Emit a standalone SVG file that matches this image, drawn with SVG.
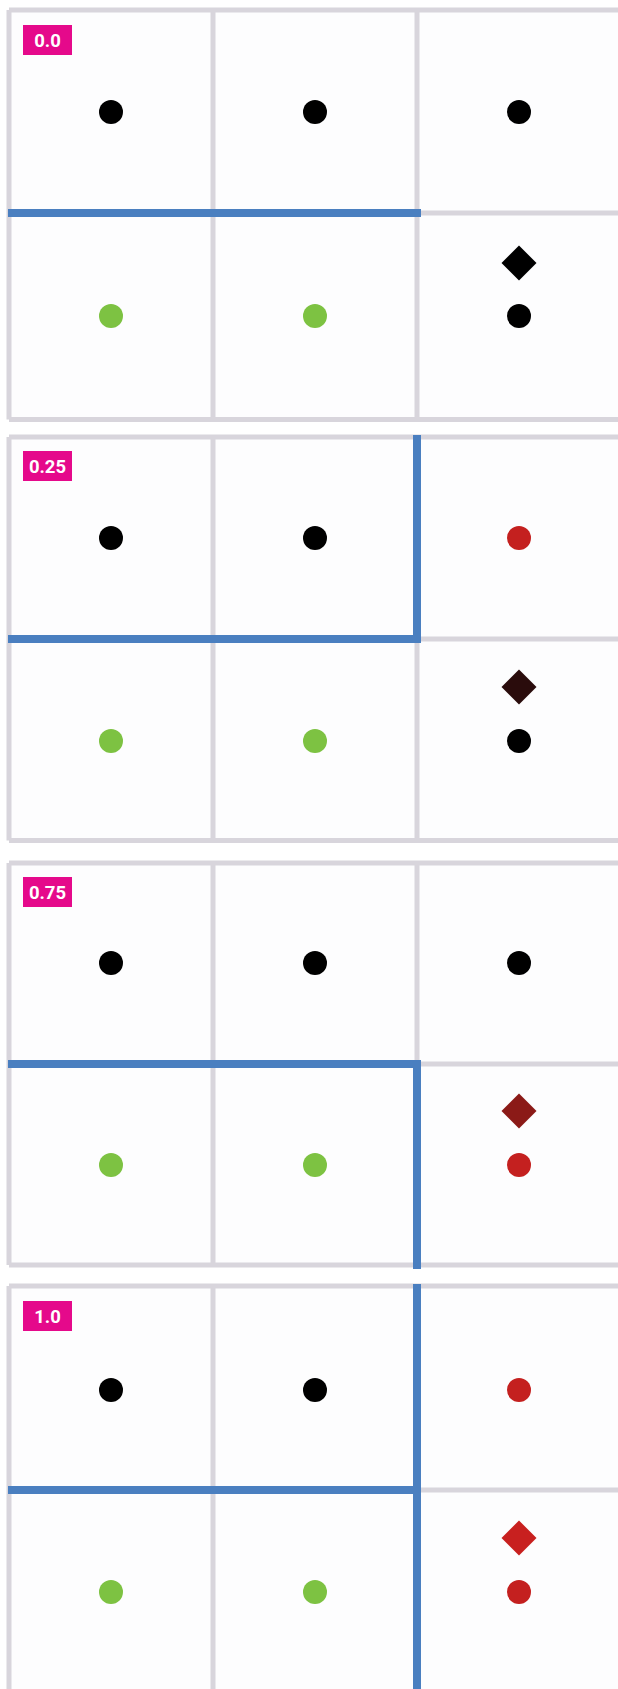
<svg xmlns="http://www.w3.org/2000/svg" width="618" height="1689" viewBox="0 0 618 1689">
<style>
.grid{stroke:#d8d5dc;stroke-width:5;fill:none}
.cell{fill:#fdfdfe}
.blue{stroke:#4a7fc0;stroke-width:8;fill:none;stroke-linecap:butt}
.tag{fill:#e5098b}
.tagt{fill:#fff;font-family:Roboto,"Liberation Sans",sans-serif;font-weight:bold;font-size:18.5px;text-anchor:middle}
.k{fill:#000}
.g{fill:#7dc242}
.r{fill:#c4201f}
</style>
<defs>
<path id="dia" d="M0 -17.5L17.5 0L0 17.5L-17.5 0Z"/>
</defs>
<rect width="618" height="1689" fill="#ffffff"/>

<g id="panel1">
<rect class="cell" x="9" y="10" width="609" height="409.5"/>
<path class="grid" d="M9 10V419.5M213 10V419.5M417 10V419.5M9 10H640M9 213H640M9 419.5H640"/>
<rect class="tag" x="23" y="25" width="49" height="30"/>
<text class="tagt" x="47.5" y="46.5">0.0</text>
<circle class="k" cx="111" cy="112" r="12"/>
<circle class="k" cx="315" cy="112" r="12"/>
<circle class="k" cx="519" cy="112" r="12"/>
<circle class="g" cx="111" cy="316" r="12"/>
<circle class="g" cx="315" cy="316" r="12"/>
<circle class="k" cx="519" cy="316" r="12"/>
<use href="#dia" x="519" y="263" fill="#000"/>
</g>

<g id="panel2">
<rect class="cell" x="9" y="437" width="609" height="403.5"/>
<path class="grid" d="M9 437V840.5M213 437V840.5M417 437V840.5M9 437H640M9 639H640M9 840.5H640"/>
<rect class="tag" x="23" y="451" width="49" height="30"/>
<text class="tagt" x="47.5" y="472.5">0.25</text>
<circle class="k" cx="111" cy="538" r="12"/>
<circle class="k" cx="315" cy="538" r="12"/>
<circle class="r" cx="519" cy="538" r="12"/>
<circle class="g" cx="111" cy="741" r="12"/>
<circle class="g" cx="315" cy="741" r="12"/>
<circle class="k" cx="519" cy="741" r="12"/>
<use href="#dia" x="519" y="687" fill="#2a0c0c"/>
</g>

<g id="panel3">
<rect class="cell" x="9" y="863" width="609" height="402"/>
<path class="grid" d="M9 863V1265M213 863V1265M417 863V1265M9 863H640M9 1064H640M9 1265H640"/>
<rect class="tag" x="23" y="877" width="49" height="30"/>
<text class="tagt" x="47.5" y="898.5">0.75</text>
<circle class="k" cx="111" cy="963" r="12"/>
<circle class="k" cx="315" cy="963" r="12"/>
<circle class="k" cx="519" cy="963" r="12"/>
<circle class="g" cx="111" cy="1165" r="12"/>
<circle class="g" cx="315" cy="1165" r="12"/>
<circle class="r" cx="519" cy="1165" r="12"/>
<use href="#dia" x="519" y="1111" fill="#8b1a17"/>
</g>

<g id="panel4">
<rect class="cell" x="9" y="1286" width="609" height="403"/>
<path class="grid" d="M9 1286V1700M213 1286V1700M417 1286V1700M9 1286H640M9 1490H640"/>
<rect class="tag" x="23" y="1301" width="49" height="30"/>
<text class="tagt" x="47.5" y="1322.5">1.0</text>
<circle class="k" cx="111" cy="1390" r="12"/>
<circle class="k" cx="315" cy="1390" r="12"/>
<circle class="r" cx="519" cy="1390" r="12"/>
<circle class="g" cx="111" cy="1592" r="12"/>
<circle class="g" cx="315" cy="1592" r="12"/>
<circle class="r" cx="519" cy="1592" r="12"/>
<use href="#dia" x="519" y="1538" fill="#c8201f"/>
</g>

<g id="connectors">
<path class="blue" d="M8 213H421"/>
<path class="blue" d="M8 639H421M417 435V643"/>
<path class="blue" d="M8 1064H421M417 1060V1269"/>
<path class="blue" d="M8 1490H417M417 1284V1689"/>
</g>
</svg>
